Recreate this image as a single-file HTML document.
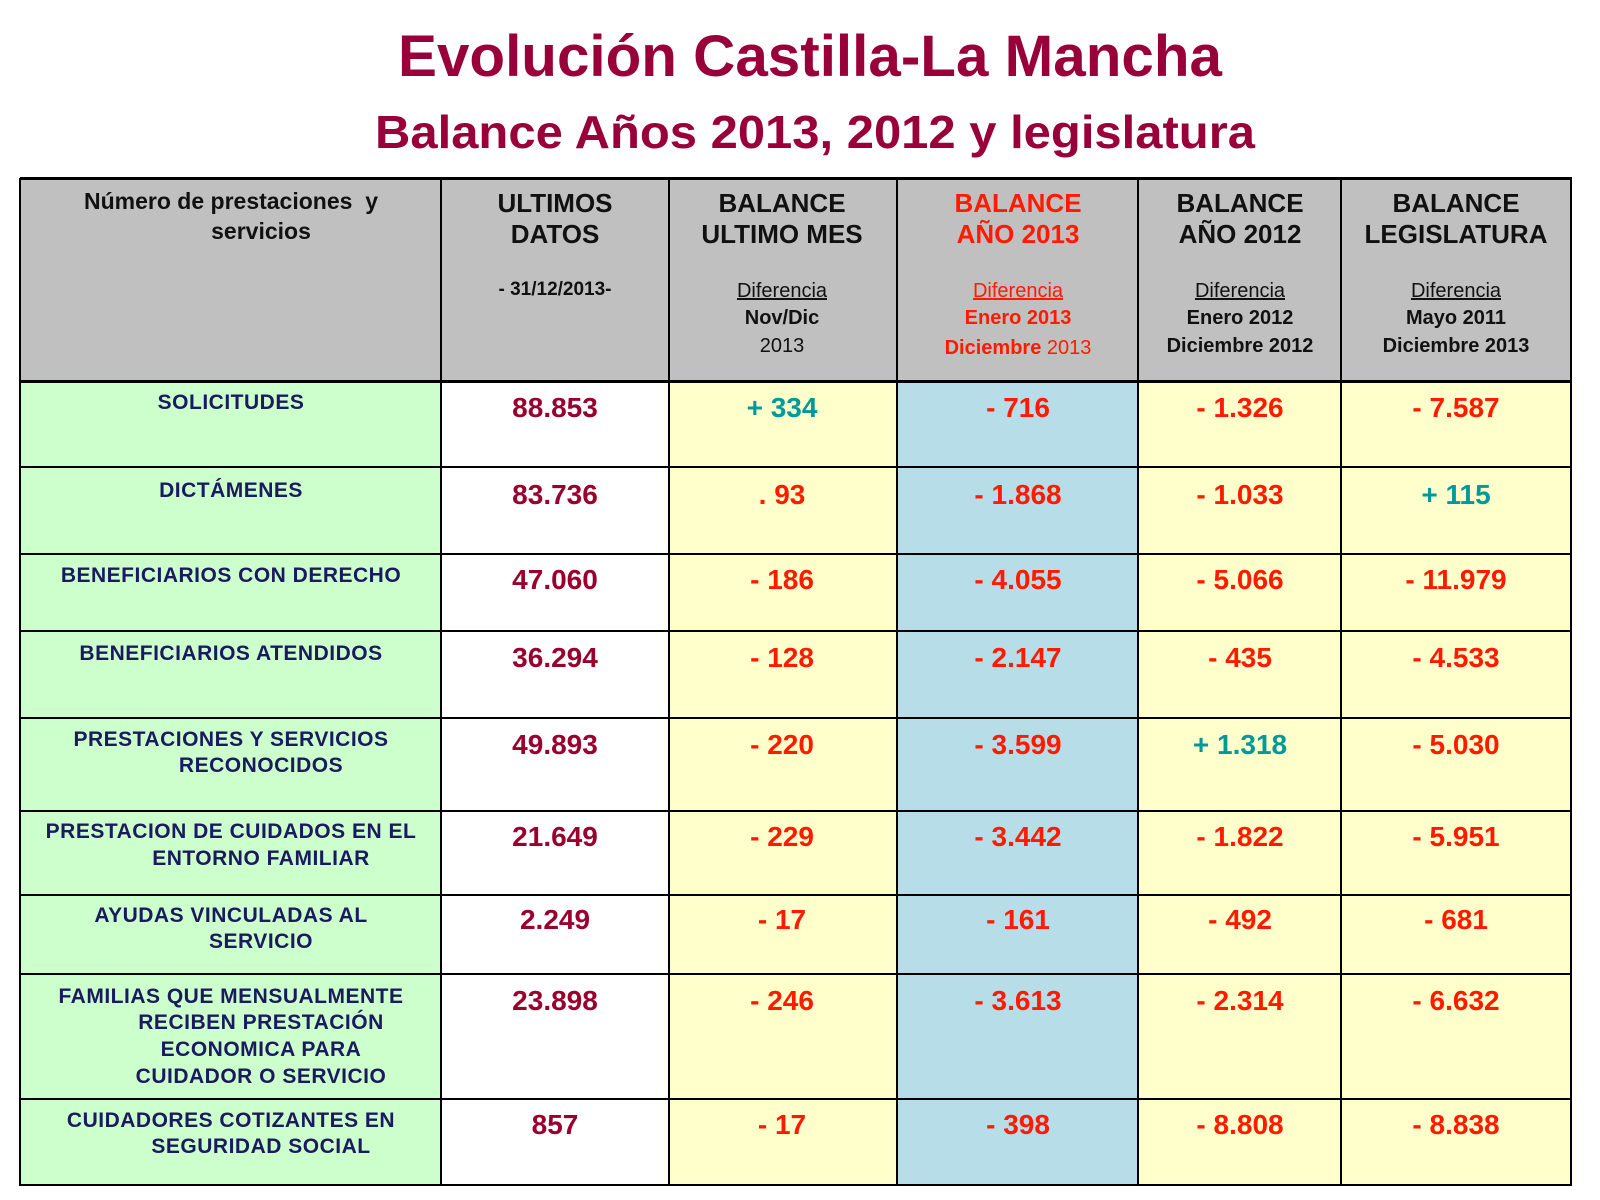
<!DOCTYPE html>
<html><head><meta charset="utf-8"><style>
html,body{margin:0;padding:0;background:#fff;}
body{width:1600px;height:1200px;position:relative;overflow:hidden;font-family:"Liberation Sans",Arial,sans-serif;}
.c{position:absolute;}
.t{position:absolute;white-space:nowrap;transform:translateX(-50%);height:30px;line-height:30px;text-align:center;}
.h{position:absolute;background:#000;}
</style></head><body>
<svg class="c" style="left:0;top:0" width="1600" height="170">
<text x="810" y="76" text-anchor="middle" font-family="Liberation Sans" font-weight="bold" font-size="58" fill="#99003a" textLength="824" lengthAdjust="spacingAndGlyphs">Evolución Castilla-La Mancha</text>
<text x="815" y="148" text-anchor="middle" font-family="Liberation Sans" font-weight="bold" font-size="46" fill="#99003a" textLength="880" lengthAdjust="spacingAndGlyphs">Balance Años 2013, 2012 y legislatura</text>
</svg>
<div id="root"></div>
<script>
var X=[20,441,669,897,1138,1341,1571];
var Y=[178,381,467,554,631,718,811,895,974,1099,1185];
var r=document.getElementById('root'),h='';
function rect(x,y,w,hh,c){h+='<div class="c" style="left:'+x+'px;top:'+y+'px;width:'+w+'px;height:'+hh+'px;background:'+c+'"></div>';}
function txt(cx,cy,s,st){h+='<div class="t" style="left:'+cx+'px;top:'+(cy-15)+'px;'+st+'">'+s+'</div>';}
rect(X[0],Y[0],X[6]-X[0],Y[1]-Y[0],'#c0c0c0');
var cols=['#ccffcc','#ffffff','#ffffcc','#b7dee8','#ffffcc','#ffffcc'];
for(var i=0;i<6;i++)rect(X[i],Y[1],X[i+1]-X[i],Y[10]-Y[1],cols[i]);
for(var i=0;i<7;i++)h+='<div class="h" style="left:'+(X[i]-1)+'px;top:'+Y[0]+'px;width:2px;height:'+(Y[10]-Y[0]+1)+'px"></div>';
for(var j=0;j<11;j++)h+='<div class="h" style="left:'+X[0]+'px;top:'+(Y[j]-1)+'px;width:'+(X[6]-X[0]+1)+'px;height:'+(j==0||j==1?3:2)+'px"></div>';
var cx=[0,555,782,1018,1240,1456];
var B='font-weight:bold;',H='font-size:26px;font-weight:bold;color:#111;',S='font-size:20px;color:#111;';
txt(231,201,'Número de prestaciones&nbsp; y',B+'font-size:23px;color:#111');
txt(261,231,'servicios',B+'font-size:23px;color:#111');
txt(cx[1],203,'ULTIMOS',H);txt(cx[1],234,'DATOS',H);txt(cx[1],290,'- 31/12/2013-',B+'font-size:19px;color:#111');
txt(cx[2],203,'BALANCE',H);txt(cx[2],234,'ULTIMO MES',H);
txt(cx[2],291,'<u>Diferencia</u>',S);txt(cx[2],318,'Nov/Dic',S+B);txt(cx[2],346,'2013',S);
var R='color:#ff1a00;';
txt(cx[3],203,'BALANCE',H+R);txt(cx[3],234,'AÑO 2013',H+R);
txt(cx[3],291,'<u>Diferencia</u>',S+R);txt(cx[3],318,'Enero 2013',S+B+R);txt(cx[3],348,'Diciembre <span style="font-weight:normal">2013</span>',S+B+R);
txt(cx[4],203,'BALANCE',H);txt(cx[4],234,'AÑO 2012',H);
txt(cx[4],291,'<u>Diferencia</u>',S);txt(cx[4],318,'Enero 2012',S+B);txt(cx[4],346,'Diciembre 2012',S+B);
txt(cx[5],203,'BALANCE',H);txt(cx[5],234,'LEGISLATURA',H);
txt(cx[5],291,'<u>Diferencia</u>',S);txt(cx[5],318,'Mayo 2011',S+B);txt(cx[5],346,'Diciembre 2013',S+B);
var L='font-size:21px;letter-spacing:0.5px;font-weight:bold;color:#1a1a5e;';
var labels=[
[[231,403,'SOLICITUDES']],
[[231,491,'DICTÁMENES']],
[[231,576,'BENEFICIARIOS CON DERECHO']],
[[231,654,'BENEFICIARIOS ATENDIDOS']],
[[231,740,'PRESTACIONES Y SERVICIOS'],[261,766,'RECONOCIDOS']],
[[231,832,'PRESTACION DE CUIDADOS EN EL'],[261,859,'ENTORNO FAMILIAR']],
[[231,916,'AYUDAS VINCULADAS AL'],[261,942,'SERVICIO']],
[[231,997,'FAMILIAS QUE MENSUALMENTE'],[261,1023,'RECIBEN PRESTACIÓN'],[261,1050,'ECONOMICA PARA'],[261,1077,'CUIDADOR O SERVICIO']],
[[231,1121,'CUIDADORES COTIZANTES EN'],[261,1147,'SEGURIDAD SOCIAL']]];
labels.forEach(function(a){a.forEach(function(l){txt(l[0],l[1],l[2],L);});});
var ny=[408,495,580,658,745,837,920,1001,1125];
var data=[
['88.853','+ 334','- 716','- 1.326','- 7.587'],
['83.736','. 93','- 1.868','- 1.033','+ 115'],
['47.060','- 186','- 4.055','- 5.066','- 11.979'],
['36.294','- 128','- 2.147','- 435','- 4.533'],
['49.893','- 220','- 3.599','+ 1.318','- 5.030'],
['21.649','- 229','- 3.442','- 1.822','- 5.951'],
['2.249','- 17','- 161','- 492','- 681'],
['23.898','- 246','- 3.613','- 2.314','- 6.632'],
['857','- 17','- 398','- 8.808','- 8.838']];
data.forEach(function(row,i){row.forEach(function(v,k){
 var col=k==0?'#99002e':(v.charAt(0)=='+'?'#009999':'#ff1a00');
 txt(cx[k+1],ny[i],v,'font-size:28px;font-weight:bold;color:'+col);
});});
r.innerHTML=h;
</script>
</body></html>
